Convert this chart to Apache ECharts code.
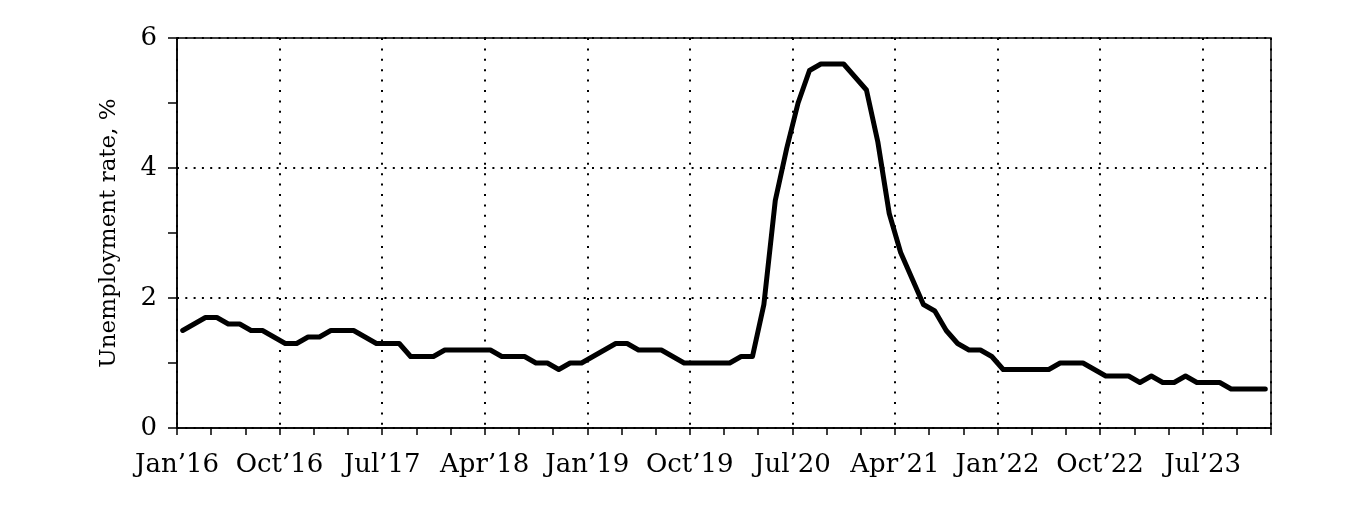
<!DOCTYPE html>
<html>
<head>
<meta charset="utf-8">
<script src="https://cdn.jsdelivr.net/npm/echarts@6/dist/echarts.min.js"></script>
<style>
html,body{margin:0;padding:0;background:#fff;}
#chart{width:1364px;height:508px;}
</style>
</head>
<body>
<div id="chart"></div>
<script>
// Monthly unemployment rate, Jan'16 .. Dec'23
const startYear = 2016;
const rates = [
  1.5,1.6,1.7,1.7,1.6,1.6,1.5,1.5,1.4,1.3,1.3,1.4,
  1.4,1.5,1.5,1.5,1.4,1.3,1.3,1.3,1.1,1.1,1.1,1.2,
  1.2,1.2,1.2,1.2,1.1,1.1,1.1,1.0,1.0,0.9,1.0,1.0,
  1.1,1.2,1.3,1.3,1.2,1.2,1.2,1.1,1.0,1.0,1.0,1.0,
  1.0,1.1,1.1,1.9,3.5,4.3,5.0,5.5,5.6,5.6,5.6,5.4,
  5.2,4.4,3.3,2.7,2.3,1.9,1.8,1.5,1.3,1.2,1.2,1.1,
  0.9,0.9,0.9,0.9,0.9,1.0,1.0,1.0,0.9,0.8,0.8,0.8,
  0.7,0.8,0.7,0.7,0.8,0.7,0.7,0.7,0.6,0.6,0.6,0.6
];
const tickLabels = ["Jan\u201916","Oct\u201916","Jul\u201917","Apr\u201918","Jan\u201919",
  "Oct\u201919","Jul\u201920","Apr\u201921","Jan\u201922","Oct\u201922","Jul\u201923"];
const yTicks = [0, 2, 4, 6];
const yName = "Unemployment rate, %";

// points placed at mid-month
const seriesData = rates.map((v, i) => [i + 0.5, v]);

const FONT = "DejaVu Serif";
const chart = echarts.init(document.getElementById('chart'), null, {renderer: 'canvas'});
chart.setOption({
  animation: false,
  backgroundColor: '#fff',
  grid: {
    left: 177, right: 93, top: 38, bottom: 80,
    show: true, borderColor: '#000', borderWidth: 1.5, backgroundColor: 'transparent'
  },
  xAxis: {
    type: 'value',
    min: 0, max: rates.length,
    interval: 9,
    axisLine: {show: true, onZero: false, lineStyle: {color: '#000', width: 1.5}},
    axisTick: {show: true, inside: false, length: 7, lineStyle: {color: '#000', width: 1.5}},
    minorTick: {show: true, splitNumber: 3, length: 7, lineStyle: {color: '#000', width: 1.5}},
    splitLine: {show: true, lineStyle: {color: '#000', width: 2, type: [2, 8.4]}},
    axisLabel: {
      color: '#000', fontFamily: FONT, fontSize: 26, margin: 24,
      showMaxLabel: false,
      formatter: function (v) {
        const k = Math.round(v / 9);
        return (Math.abs(v - k * 9) < 1e-6 && tickLabels[k]) ? tickLabels[k] : '';
      }
    }
  },
  yAxis: {
    type: 'value',
    min: yTicks[0], max: yTicks[yTicks.length - 1], interval: 2,
    name: yName,
    nameLocation: 'middle',
    nameGap: 56,
    nameRotate: 90,
    nameTextStyle: {color: '#000', fontFamily: FONT, fontSize: 23},
    axisLine: {show: true, lineStyle: {color: '#000', width: 1.5}},
    axisTick: {show: true, inside: false, length: 9, lineStyle: {color: '#000', width: 1.5}},
    minorTick: {show: true, splitNumber: 2, length: 9, lineStyle: {color: '#000', width: 1.5}},
    splitLine: {show: true, lineStyle: {color: '#000', width: 2, type: [2, 6.3]}},
    axisLabel: {color: '#000', fontFamily: FONT, fontSize: 26, margin: 20}
  },
  series: [{
    type: 'line',
    data: seriesData,
    showSymbol: false,
    lineStyle: {color: '#000', width: 5, cap: 'round', join: 'round'},
    z: 5
  }]
});
</script>
</body>
</html>
